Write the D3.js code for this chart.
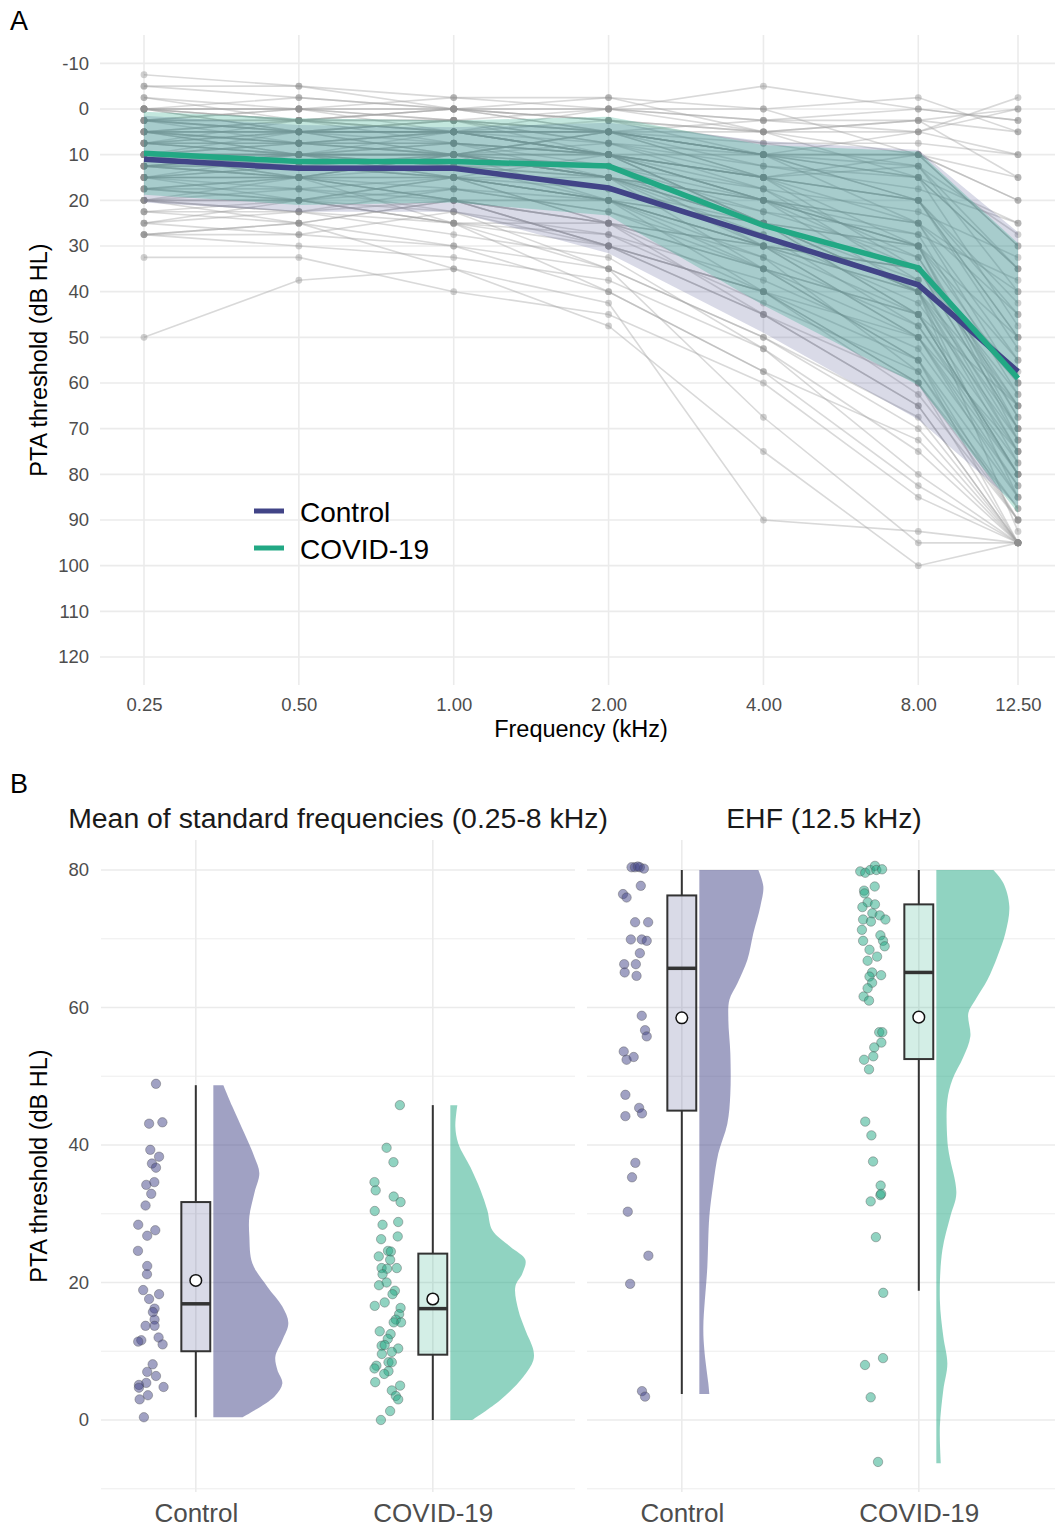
<!DOCTYPE html>
<html>
<head>
<meta charset="utf-8">
<script src="https://cdn.jsdelivr.net/npm/d3@7"></script>
<style>
body{margin:0;background:#fff;}
text{font-family:"Liberation Sans",Arial,Helvetica,sans-serif;}
</style>
</head>
<body>
<div id="chart"></div>
<script>
// ---------- panel A data ----------
const freqs = [0.25, 0.5, 1, 2, 4, 8, 12.5];
const yTicksA = [-10, 0, 10, 20, 30, 40, 50, 60, 70, 80, 90, 100, 110, 120];
const groups = ["Control", "COVID-19"];

// individual audiograms (dB HL at each frequency)
const subjects = [
  [-7.5, -5, -2.5, -2.5, 0, -2.5, 5],
  [-5, -5, 0, 0, -5, 0, 2.5],
  [-2.5, 2.5, 0, -2.5, 5, 2.5, 0],
  [0, 0, -2.5, 0, 2.5, 5, -2.5],
  [0, 2.5, 2.5, 5, 10, 10, 15],
  [0, 5, 5, 0, 5, 2.5, 5],
  [2.5, 0, 5, 5, 10, 15, 25],
  [2.5, 5, 2.5, 7.5, 15, 20, 45],
  [5, 5, 5, 10, 15, 25, 55],
  [5, 7.5, 10, 5, 10, 10, 30],
  [5, 10, 5, 10, 20, 30, 70],
  [7.5, 5, 10, 15, 20, 35, 65],
  [7.5, 10, 10, 5, 15, 10, 20],
  [10, 10, 7.5, 10, 25, 40, 75],
  [10, 15, 10, 15, 25, 45, 80],
  [10, 5, 10, 10, 20, 30, 60],
  [12.5, 10, 15, 20, 30, 50, 85],
  [12.5, 15, 10, 10, 15, 20, 50],
  [15, 15, 20, 25, 40, 60, 95],
  [15, 10, 15, 15, 35, 55, 90],
  [15, 20, 15, 20, 30, 35, 70],
  [17.5, 15, 20, 30, 45, 65, 95],
  [17.5, 20, 15, 25, 35, 45, 80],
  [20, 20, 25, 35, 50, 70, 95],
  [20, 25, 20, 30, 40, 55, 85],
  [20, 15, 25, 40, 57.5, 82.5, 95],
  [22.5, 25, 30, 35, 50, 67.5, 95],
  [25, 20, 25, 30, 45, 60, 90],
  [27.5, 27.5, 30, 40, 57.5, 72.5, 95],
  [27.5, 25, 35, 47.5, 75, 100, 95],
  [32.5, 32.5, 40, 45, 60, 85, 95],
  [50, 37.5, 35, 42.5, 90, 92.5, 95],
  [0, 0, 0, 2.5, 5, 5, 10],
  [2.5, 2.5, 5, 5, 12.5, 15, 35],
  [5, 2.5, 7.5, 10, 20, 25, 40],
  [7.5, 7.5, 5, 10, 25, 35, 60],
  [10, 12.5, 10, 15, 30, 40, 65],
  [10, 10, 12.5, 15, 20, 30, 55],
  [12.5, 12.5, 15, 20, 35, 45, 75],
  [15, 12.5, 15, 20, 25, 40, 70],
  [5, 5, 5, 5, 10, 20, 50],
  [10, 7.5, 10, 12.5, 30, 50, 80],
  [0, 2.5, 5, 2.5, 10, 25, 60],
  [2.5, 0, 0, 5, 5, 10, 30],
  [7.5, 10, 7.5, 15, 20, 40, 85],
  [12.5, 15, 15, 25, 45, 65, 95],
  [17.5, 17.5, 22.5, 30, 40, 50, 75],
  [20, 22.5, 20, 25, 30, 45, 65],
  [5, 10, 10, 15, 25, 30, 50],
  [0, 5, 2.5, 10, 15, 35, 70],
  [10, 10, 10, 5, 10, 15, 35],
  [15, 15, 10, 20, 40, 60, 87.5],
  [2.5, 5, 5, 10, 25, 45, 80],
  [7.5, 5, 5, 10, 15, 30, 72.5],
  [10, 12.5, 15, 20, 30, 35, 62.5],
  [12.5, 10, 10, 15, 25, 40, 77.5],
  [25, 27.5, 22.5, 35, 67.5, 95, 95],
  [20, 17.5, 20, 30, 40, 62.5, 90],
  [5, 7.5, 5, 7.5, 10, 12.5, 40],
  [0, 0, 2.5, 0, 0, 10, 20],
  [15, 17.5, 15, 10, 20, 25, 45],
  [22.5, 20, 25, 25, 35, 50, 82.5],
  [10, 15, 20, 25, 30, 35, 57.5],
  [-5, -2.5, 0, 2.5, 5, 15, 47.5],
  [2.5, 7.5, 7.5, 10, 10, 20, 42.5],
  [7.5, 2.5, 5, 5, 15, 20, 52.5],
  [12.5, 10, 12.5, 17.5, 25, 30, 67.5],
  [27.5, 25, 20, 20, 30, 40, 92.5],
  [17.5, 20, 17.5, 22.5, 35, 55, 95],
  [5, 2.5, 0, 5, 2.5, 2.5, 15],
  [0, -2.5, 0, 0, 2.5, 0, 2.5],
  [2.5, 2.5, 0, 2.5, 7.5, 7.5, 10],
  [5, 5, 2.5, 5, 10, 5, 0],
  [7.5, 10, 10, 7.5, 12.5, 17.5, 25],
  [10, 10, 12.5, 12.5, 22.5, 27.5, 37.5],
  [12.5, 12.5, 10, 12.5, 17.5, 22.5, 32.5],
  [15, 15, 17.5, 22.5, 32.5, 47.5, 80],
  [17.5, 15, 15, 17.5, 27.5, 42.5, 72.5],
  [20, 20, 22.5, 27.5, 42.5, 57.5, 87.5],
  [22.5, 22.5, 27.5, 32.5, 52.5, 75, 95],
  [25, 22.5, 25, 27.5, 37.5, 52.5, 82.5],
  [2.5, 5, 7.5, 12.5, 20, 27.5, 62.5],
  [5, 7.5, 7.5, 10, 17.5, 32.5, 67.5],
  [7.5, 7.5, 10, 15, 27.5, 47.5, 77.5],
  [10, 7.5, 5, 10, 15, 12.5, 27.5],
  [12.5, 15, 12.5, 20, 32.5, 57.5, 90],
  [-2.5, 0, 2.5, 5, 7.5, 12.5, 35],
  [0, 2.5, 2.5, 7.5, 17.5, 37.5, 75],
  [15, 12.5, 12.5, 15, 22.5, 32.5, 65],
  [20, 22.5, 17.5, 20, 25, 37.5, 72.5],
  [27.5, 30, 32.5, 37.5, 52.5, 80, 95]
];

// group means and +/- SD band
const ctrlMean = [11, 13, 13, 17.3, 28, 38.5, 57.5];
const ctrlHi   = [1.5, 3.5, 4, 3, 7, 9, 27];
const ctrlLo   = [20.5, 22.5, 22.5, 31.6, 49, 68, 87];
const covMean  = [9.7, 11.5, 11.5, 12.5, 25.5, 34.8, 59];
const covHi    = [0.6, 2, 2.5, 1.7, 7.9, 9.3, 29.4];
const covLo    = [18.8, 21, 20.5, 23.3, 43, 60.5, 88.5];

// ---------- panel B data ----------
const facetTitles = ["Mean of standard frequencies (0.25-8 kHz)", "EHF (12.5 kHz)"];
const yTicksB = [0, 20, 40, 60, 80];
const yMinorB = [-10, 10, 30, 50, 70];

// [jitter, value]
const ctrlStdPts = [[-0.168,48.9],[-0.197,43.1],[-0.141,43.3],[-0.192,39.3],[-0.155,38.3],[-0.185,37.3],[-0.168,36.7],[-0.175,34.6],[-0.209,34.2],[-0.188,32.9],[-0.212,31.2],[-0.243,28.4],[-0.171,27.6],[-0.205,26.8],[-0.244,24.6],[-0.205,22.4],[-0.206,21.2],[-0.222,18.9],[-0.155,18.3],[-0.197,17.6],[-0.174,16.2],[-0.181,15.7],[-0.174,14.6],[-0.212,13.7],[-0.174,13.7],[-0.157,12.0],[-0.230,11.6],[-0.243,11.4],[-0.140,11.0],[-0.182,8.1],[-0.205,7.0],[-0.168,6.4],[-0.209,5.4],[-0.240,5.1],[-0.136,4.8],[-0.240,4.7],[-0.202,3.6],[-0.237,3.0],[-0.219,0.4]];
const covStdPts = [[-0.139,45.8],[-0.195,39.6],[-0.166,37.5],[-0.246,34.6],[-0.241,33.4],[-0.165,32.5],[-0.136,31.7],[-0.245,30.4],[-0.212,28.4],[-0.146,28.8],[-0.148,26.7],[-0.218,26.3],[-0.189,24.6],[-0.177,24.5],[-0.228,23.8],[-0.180,23.3],[-0.216,22.1],[-0.193,22.0],[-0.152,22.1],[-0.212,21.2],[-0.227,19.6],[-0.195,20.0],[-0.160,18.8],[-0.170,18.3],[-0.203,17.1],[-0.245,16.6],[-0.136,16.3],[-0.142,15.4],[-0.156,14.6],[-0.134,14.2],[-0.165,14.2],[-0.224,12.9],[-0.178,12.5],[-0.190,11.8],[-0.216,10.8],[-0.203,10.9],[-0.146,10.4],[-0.173,9.9],[-0.215,9.6],[-0.187,8.4],[-0.173,8.4],[-0.238,7.9],[-0.246,7.5],[-0.187,7.1],[-0.205,6.7],[-0.243,5.5],[-0.138,5.0],[-0.173,4.3],[-0.156,3.5],[-0.146,3.0],[-0.180,1.3],[-0.219,0.0]];
const ctrlEhfPts = [[-0.212,80.4],[-0.198,80.4],[-0.177,80.4],[-0.160,80.2],[-0.186,80.5],[-0.173,77.7],[-0.248,76.5],[-0.233,76.0],[-0.197,72.4],[-0.142,72.4],[-0.215,69.9],[-0.169,69.9],[-0.148,69.7],[-0.177,67.9],[-0.243,66.3],[-0.194,66.3],[-0.241,65.1],[-0.191,64.6],[-0.169,58.8],[-0.155,56.7],[-0.148,55.8],[-0.245,53.6],[-0.233,52.4],[-0.203,52.8],[-0.238,47.3],[-0.180,45.4],[-0.168,44.6],[-0.238,44.2],[-0.196,37.4],[-0.210,35.3],[-0.228,30.3],[-0.141,23.9],[-0.218,19.8],[-0.168,4.2],[-0.155,3.4]];
const covEhfPts = [[-0.247,79.8],[-0.226,79.6],[-0.205,80.0],[-0.185,80.6],[-0.179,80.0],[-0.155,80.1],[-0.186,77.6],[-0.231,77.0],[-0.229,76.6],[-0.216,75.3],[-0.185,75.0],[-0.238,74.6],[-0.196,73.7],[-0.165,73.4],[-0.141,72.8],[-0.235,72.8],[-0.202,72.5],[-0.240,71.3],[-0.162,70.5],[-0.151,69.7],[-0.235,69.7],[-0.144,68.9],[-0.208,68.4],[-0.176,67.4],[-0.216,66.8],[-0.197,65.1],[-0.159,64.7],[-0.208,64.5],[-0.197,63.6],[-0.216,62.8],[-0.233,61.6],[-0.210,61.0],[-0.167,56.4],[-0.154,56.4],[-0.158,54.9],[-0.188,54.2],[-0.192,52.9],[-0.231,52.4],[-0.210,51.0],[-0.226,43.4],[-0.200,41.4],[-0.193,37.6],[-0.161,34.1],[-0.162,32.7],[-0.159,32.9],[-0.203,31.8],[-0.181,26.6],[-0.150,18.5],[-0.151,9.0],[-0.227,8.0],[-0.203,3.3],[-0.172,-6.1]];

// [whisker low, q1, median, q3, whisker high, mean]
const ctrlStdBox = [0.4, 10.0, 16.9, 31.7, 48.7, 20.3];
const covStdBox  = [0.0, 9.5, 16.2, 24.2, 45.8, 17.6];
const ctrlEhfBox = [3.8, 45.0, 65.7, 76.3, 80.0, 58.5];
const covEhfBox  = [18.8, 52.5, 65.1, 75.0, 80.0, 58.6];

// half-violin density profile [value, density]
const ctrlStdDens = [[48.7,0.10],[45.6,0.19],[41.7,0.31],[38.3,0.41],[35.9,0.46],[33.0,0.41],[29.6,0.36],[26.7,0.36],[22.8,0.39],[19.4,0.54],[16.5,0.69],[14.1,0.75],[11.6,0.69],[9.2,0.62],[7.3,0.64],[5.3,0.69],[3.4,0.61],[0.4,0.29]];
const covStdDens = [[45.8,0.07],[42.7,0.05],[40.2,0.08],[36.8,0.20],[33.5,0.30],[30.5,0.37],[27.6,0.42],[25.2,0.60],[23.3,0.75],[21.3,0.72],[19.4,0.65],[16.0,0.68],[13.1,0.75],[10.2,0.83],[8.7,0.83],[6.3,0.73],[2.9,0.50],[0.0,0.22]];
const ctrlEhfDens = [[80,0.59],[77.6,0.64],[74.7,0.61],[70.8,0.54],[66.9,0.48],[63.5,0.38],[61.1,0.30],[58.2,0.29],[53.3,0.31],[47.5,0.31],[43.1,0.28],[38.8,0.19],[34.4,0.14],[29.6,0.10],[22.3,0.08],[13.6,0.04],[10.2,0.05],[5.3,0.09],[3.8,0.10]];
const covEhfDens = [[80,0.57],[78.1,0.67],[74.7,0.73],[70.8,0.69],[67.4,0.61],[64,0.51],[61.1,0.39],[59.2,0.32],[55.8,0.34],[52.8,0.27],[49.5,0.16],[46.5,0.11],[40.7,0.11],[38.5,0.13],[33,0.20],[29.6,0.14],[24.7,0.06],[17.5,0.035],[12.1,0.07],[8.2,0.11],[4.4,0.07],[-1,0.035],[-6.3,0.045]];

// ---------- drawing ----------
const W = 1055, H = 1527;
const ctrlCol = "#414487", covCol = "#22A884";
const gridCol = "#ebebeb", tickCol = "#4d4d4d";

const svg = d3.select("#chart").append("svg")
    .attr("width", W).attr("height", H);

// panel A
let A = {left: 100, right: 1062, top: 35, bottom: 685};
let xA = d3.scaleLog().base(2).domain([0.25, 12.5]).range([144, 1018]);
let yA = d3.scaleLinear().domain([0, 120]).range([109, 657]);

let gA = svg.append("g");
gA.selectAll(".hg").data(yTicksA).enter().append("line")
  .attr("x1", A.left).attr("x2", A.right)
  .attr("y1", d => yA(d)).attr("y2", d => yA(d))
  .attr("stroke", gridCol).attr("stroke-width", 1.6);
gA.selectAll(".vg").data(freqs).enter().append("line")
  .attr("x1", d => xA(d)).attr("x2", d => xA(d))
  .attr("y1", A.top).attr("y2", A.bottom)
  .attr("stroke", gridCol).attr("stroke-width", 1.6);

let subjLine = d3.line().x((d, i) => xA(freqs[i])).y(d => yA(d));
gA.append("g").selectAll("path").data(subjects).enter().append("path")
  .attr("d", subjLine)
  .attr("fill", "none").attr("stroke", "#a0a0a0")
  .attr("stroke-opacity", 0.4).attr("stroke-width", 1.6);
gA.append("g").selectAll("g").data(subjects).enter().append("g")
  .selectAll("circle").data(d => d).enter().append("circle")
  .attr("cx", (d, i) => xA(freqs[i])).attr("cy", d => yA(d))
  .attr("r", 3.4).attr("fill", "#8f8f8f").attr("fill-opacity", 0.42);

let band = d3.area().x((d, i) => xA(freqs[i])).y0(d => yA(d[0])).y1(d => yA(d[1]));
gA.append("path").datum(ctrlHi.map((v, i) => [v, ctrlLo[i]]))
  .attr("d", band).attr("fill", ctrlCol).attr("fill-opacity", 0.2);
gA.append("path").datum(covHi.map((v, i) => [v, covLo[i]]))
  .attr("d", band).attr("fill", covCol).attr("fill-opacity", 0.27);

let meanLine = d3.line().x((d, i) => xA(freqs[i])).y(d => yA(d));
gA.append("path").datum(ctrlMean).attr("d", meanLine)
  .attr("fill", "none").attr("stroke", ctrlCol).attr("stroke-width", 5.5);
gA.append("path").datum(covMean).attr("d", meanLine)
  .attr("fill", "none").attr("stroke", covCol).attr("stroke-width", 5.5);

let axA = gA.append("g").attr("transform", "translate(0," + A.bottom + ")")
  .call(d3.axisBottom(xA).tickValues(freqs).tickFormat(d3.format(".2f")).tickSize(0).tickPadding(13));
let ayA = gA.append("g").attr("transform", "translate(" + A.left + ",0)")
  .call(d3.axisLeft(yA).tickValues(yTicksA).tickFormat(d => String(d)).tickSize(0).tickPadding(11));
[axA, ayA].forEach(g => {
  g.select(".domain").remove();
  g.selectAll("text").attr("font-size", 18.5).attr("fill", tickCol)
    .attr("font-family", '"Liberation Sans", Arial, sans-serif');
});

gA.append("text").attr("x", 581).attr("y", 737).attr("text-anchor", "middle")
  .attr("font-size", 23.5).text("Frequency (kHz)");
gA.append("text").attr("transform", "translate(47," + ((A.top + A.bottom) / 2) + ")rotate(-90)")
  .attr("text-anchor", "middle").attr("font-size", 23.5).text("PTA threshold (dB HL)");
svg.append("text").attr("x", 10).attr("y", 30).attr("font-size", 27).text("A");

// legend
let leg = gA.append("g");
[ctrlCol, covCol].forEach((c, i) => {
  let yy = 511 + i * 37;
  leg.append("line").attr("x1", 254).attr("x2", 284).attr("y1", yy).attr("y2", yy)
    .attr("stroke", c).attr("stroke-width", 5);
  leg.append("text").attr("x", 300).attr("y", yy + 10.5).attr("font-size", 28)
    .attr("fill", "#000").text(groups[i]);
});

// panel B
let B = {top: 840, bottom: 1492, width: 474};
let yB = d3.scaleLinear().domain([0, 80]).range([1420, 870]);
let xB = d3.scaleLinear().domain([-0.4, 1.6]).range([0, B.width]);
let densW = d3.scaleLinear().domain([0, 1]).range([0, 100]);
let boxHalf = 0.061, violGap = 0.074;

const facets = [
  {left: 101, pts: [ctrlStdPts, covStdPts], box: [ctrlStdBox, covStdBox], dens: [ctrlStdDens, covStdDens]},
  {left: 587, pts: [ctrlEhfPts, covEhfPts], box: [ctrlEhfBox, covEhfBox], dens: [ctrlEhfDens, covEhfDens]}
];
const cols = [ctrlCol, covCol];

facets.forEach((f, fi) => {
  let g = svg.append("g").attr("transform", "translate(" + f.left + ",0)");
  g.selectAll(".mg").data(yMinorB).enter().append("line")
    .attr("x1", 0).attr("x2", B.width).attr("y1", d => yB(d)).attr("y2", d => yB(d))
    .attr("stroke", gridCol).attr("stroke-width", 0.9);
  g.selectAll(".hg").data(yTicksB).enter().append("line")
    .attr("x1", 0).attr("x2", B.width).attr("y1", d => yB(d)).attr("y2", d => yB(d))
    .attr("stroke", gridCol).attr("stroke-width", 1.6);
  g.selectAll(".vg").data([0, 1]).enter().append("line")
    .attr("x1", d => xB(d)).attr("x2", d => xB(d)).attr("y1", B.top).attr("y2", B.bottom)
    .attr("stroke", gridCol).attr("stroke-width", 1.6);

  g.append("text").attr("x", B.width / 2).attr("y", 828).attr("text-anchor", "middle")
    .attr("font-size", 28.4).attr("fill", "#1a1a1a").text(facetTitles[fi]);

  [0, 1].forEach(gi => {
    let c = cols[gi];
    // half violin
    let x0 = xB(gi + violGap);
    let area = d3.area().curve(d3.curveCatmullRom.alpha(0.5))
      .y(d => yB(d[0])).x0(x0).x1(d => x0 + densW(d[1]));
    g.append("path").datum(f.dens[gi]).attr("d", area)
      .attr("fill", c).attr("fill-opacity", 0.5);

    // jittered points
    g.append("g").selectAll("circle").data(f.pts[gi]).enter().append("circle")
      .attr("cx", d => xB(gi + d[0])).attr("cy", d => yB(d[1])).attr("r", 4.7)
      .attr("fill", c).attr("fill-opacity", 0.5)
      .attr("stroke", "#555").attr("stroke-opacity", 0.4).attr("stroke-width", 1);

    // box plot
    let b = f.box[gi];
    let cx = xB(gi);
    g.append("line").attr("x1", cx).attr("x2", cx).attr("y1", yB(b[0])).attr("y2", yB(b[1]))
      .attr("stroke", "#333").attr("stroke-width", 2);
    g.append("line").attr("x1", cx).attr("x2", cx).attr("y1", yB(b[3])).attr("y2", yB(b[4]))
      .attr("stroke", "#333").attr("stroke-width", 2);
    g.append("rect").attr("x", xB(gi - boxHalf)).attr("width", xB(gi + boxHalf) - xB(gi - boxHalf))
      .attr("y", yB(b[3])).attr("height", yB(b[1]) - yB(b[3]))
      .attr("fill", c).attr("fill-opacity", 0.2)
      .attr("stroke", "#333").attr("stroke-width", 2);
    g.append("line").attr("x1", xB(gi - boxHalf)).attr("x2", xB(gi + boxHalf))
      .attr("y1", yB(b[2])).attr("y2", yB(b[2]))
      .attr("stroke", "#333").attr("stroke-width", 3.5);
    g.append("circle").attr("cx", cx).attr("cy", yB(b[5])).attr("r", 5.8)
      .attr("fill", "#fff").attr("stroke", "#111").attr("stroke-width", 1.5);
  });

  let ax = g.append("g").attr("transform", "translate(0," + B.bottom + ")")
    .call(d3.axisBottom(xB).tickValues([0, 1]).tickFormat(i => groups[i]).tickSize(0).tickPadding(11.5));
  ax.select(".domain").remove();
  ax.selectAll("text").attr("font-size", 26).attr("fill", tickCol)
    .attr("font-family", '"Liberation Sans", Arial, sans-serif');

  if (fi === 0) {
    let ay = g.append("g").call(d3.axisLeft(yB).tickValues(yTicksB).tickSize(0).tickPadding(12));
    ay.select(".domain").remove();
    ay.selectAll("text").attr("font-size", 18.5).attr("fill", tickCol)
      .attr("font-family", '"Liberation Sans", Arial, sans-serif');
  }
});

svg.append("text").attr("transform", "translate(47," + ((B.top + B.bottom) / 2) + ")rotate(-90)")
  .attr("text-anchor", "middle").attr("font-size", 23.5).text("PTA threshold (dB HL)");
svg.append("text").attr("x", 10).attr("y", 793).attr("font-size", 27).text("B");
</script>
</body>
</html>
